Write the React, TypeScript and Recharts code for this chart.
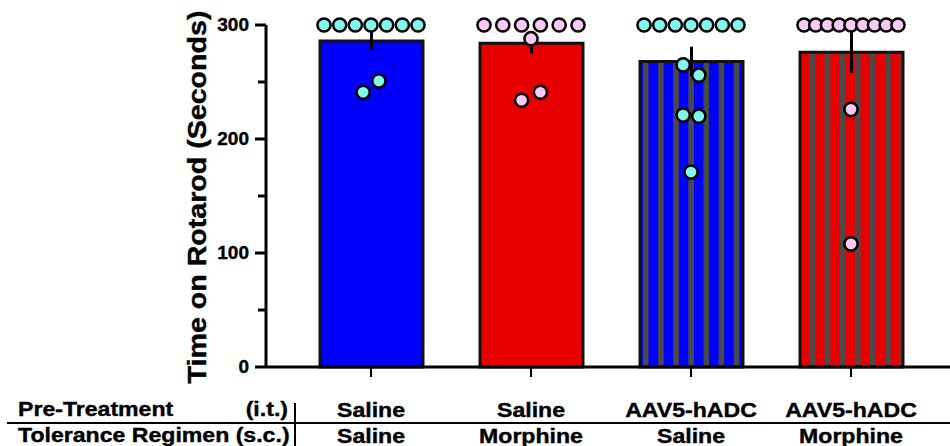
import React from "react";
import { ComposedChart, Bar, Cell, ErrorBar, Scatter, XAxis, YAxis } from "recharts";

// group labels (bottom table)
const preTreatment = ["Saline", "Saline", "AAV5-hADC", "AAV5-hADC"];
const regimen = ["Saline", "Morphine", "Saline", "Morphine"];
const groupIds = ["g0", "g1", "g2", "g3"];

// bar heights + SEM
const meanTime = [286, 284, 268, 276];
const semTime = [8, 9, 13, 18];

// individual animals, in plotting order
const salineSaline = [300, 300, 300, 300, 300, 300, 300, 241, 251];
const salineMorphine = [300, 300, 300, 300, 300, 300, 288, 234, 241];
const aavSaline = [300, 300, 300, 300, 300, 300, 300, 265, 256, 221, 220, 171];
const aavMorphine = [300, 300, 300, 300, 300, 300, 300, 300, 300, 226, 108];
const groupPoints = [salineSaline, salineMorphine, aavSaline, aavMorphine];

const yTicks = [0, 50, 100, 150, 200, 250, 300];

const W = 950;
const H = 446;
const FONT = "'Liberation Sans', Arial, Helvetica, sans-serif";
const BLUE = "#0000ff";
const RED = "#e60000";
const CYAN = "#7ff8ea";
const PINK = "#f9c9f3";
const barFills = [BLUE, RED, "url(#stripeBlue)", "url(#stripeRed)"];
const dotFills = [CYAN, PINK, CYAN, PINK];

const barData = groupIds.map((id, i) => ({ id, mean: meanTime[i], sem: semTime[i] }));

// GraphPad-like scatter: values close together are spread in a row
const ROW_SPAN = 94;
function swarm(values: number[], gi: number) {
  const order = values.map((_, i) => i).sort((a, b) => values[b] - values[a]);
  const clusters: number[][] = [];
  order.forEach((idx) => {
    const last = clusters[clusters.length - 1];
    if (last && Math.abs(values[last[last.length - 1]] - values[idx]) <= 11) last.push(idx);
    else clusters.push([idx]);
  });
  const maxN = Math.max(...clusters.map((c) => c.length));
  const step = maxN > 1 ? ROW_SPAN / (maxN - 1) : 0;
  const out: { x: number; y: number; dx: number; fill: string }[] = [];
  clusters.forEach((c) => {
    const sorted = [...c].sort((a, b) => a - b);
    sorted.forEach((idx, j) => {
      out.push({ x: gi, y: values[idx], dx: (j - (sorted.length - 1) / 2) * step, fill: dotFills[gi] });
    });
  });
  return out;
}
const dotData = groupPoints.flatMap((vals, gi) => swarm(vals, gi));

const Dot = (props: any) => {
  if (props.cx == null || props.cy == null) return null;
  return (
    <circle
      cx={props.cx + props.payload.dx}
      cy={props.cy}
      r={6.6}
      fill={props.payload.fill}
      stroke="#000"
      strokeWidth={2.5}
    />
  );
};

const textStyle = {
  fontFamily: FONT,
  fontWeight: "bold" as const,
  fill: "#000",
  stroke: "#000",
  strokeWidth: 0.4,
};

const YTick = (props: any) => {
  const { x, y, payload } = props;
  const major = payload.value % 100 === 0;
  return (
    <g>
      <line x1={x - (major ? 11 : 8)} x2={x} y1={y} y2={y} stroke="#000" strokeWidth={3} />
      {major && (
        <text x={x - 17} y={y + 6} textAnchor="end" fontSize={19} {...textStyle}>
          {payload.value}
        </text>
      )}
    </g>
  );
};

const XTick = (props: any) => {
  const { x, y, payload } = props;
  const i = groupIds.indexOf(payload.value);
  const txt = (s: string, dy: number) => (
    <text
      transform={`translate(${x},${y + dy}) scale(1.1,1)`}
      textAnchor="middle"
      fontSize={21}
      {...textStyle}
    >
      {s}
    </text>
  );
  return (
    <g>
      <line x1={x} x2={x} y1={y} y2={y + 10} stroke="#000" strokeWidth={2} />
      {txt(preTreatment[i], 50)}
      {txt(regimen[i], 76)}
    </g>
  );
};

const label = (s: string, x: number, y: number, anchor: string) => (
  <text
    transform={`translate(${x},${y}) scale(1.1,1)`}
    textAnchor={anchor}
    fontSize={21}
    {...textStyle}
  >
    {s}
  </text>
);

export default function App() {
  return (
    <div style={{ position: "absolute", left: 0, top: 0, width: W, height: H, background: "#fff" }}>
      <ComposedChart width={W} height={H} data={barData} margin={{ top: 25, right: 0, bottom: 0, left: 0 }}>
        <defs>
          <pattern id="stripeBlue" patternUnits="objectBoundingBox" x={0} y={0} width={0.147} height={1}>
            <rect x={0} y={0} width={30} height={1000} fill={BLUE} />
            <rect x={3} y={0} width={5.5} height={1000} fill="#4a4a4a" />
          </pattern>
          <pattern id="stripeRed" patternUnits="objectBoundingBox" x={0} y={0} width={0.147} height={1}>
            <rect x={0} y={0} width={30} height={1000} fill={RED} />
            <rect x={9.5} y={0} width={5.5} height={1000} fill="#4a4a4a" />
          </pattern>
        </defs>
        <XAxis
          dataKey="id"
          type="category"
          height={79}
          padding={{ left: 25, right: 19 }}
          axisLine={{ stroke: "#000", strokeWidth: 3 }}
          tickLine={false}
          tickSize={0}
          tickMargin={0}
          interval={0}
          tick={<XTick />}
        />
        <XAxis
          xAxisId="n"
          dataKey="x"
          type="number"
          domain={[-0.5, 3.5]}
          padding={{ left: 25, right: 19 }}
          hide
        />
        <YAxis
          type="number"
          domain={[0, 300]}
          ticks={yTicks}
          interval={0}
          width={266}
          axisLine={{ stroke: "#000", strokeWidth: 3 }}
          tickLine={false}
          tickSize={0}
          tickMargin={0}
          tick={<YTick />}
        />
        <Bar dataKey="mean" barSize={103} stroke="#111" strokeWidth={3} isAnimationActive={false}>
          {barData.map((d, i) => (
            <Cell key={d.id} fill={barFills[i]} />
          ))}
          <ErrorBar dataKey="sem" direction="y" width={0} stroke="#000" strokeWidth={3} isAnimationActive={false} />
        </Bar>
        <Scatter xAxisId="n" data={dotData} dataKey="y" shape={<Dot />} isAnimationActive={false} />
      </ComposedChart>
      <svg
        width={W}
        height={H}
        style={{ position: "absolute", left: 0, top: 0, pointerEvents: "none" }}
      >
        <text
          transform="translate(206,197) rotate(-90) scale(1.1,1)"
          textAnchor="middle"
          fontSize={26}
          {...textStyle}
        >
          Time on Rotarod (Seconds)
        </text>
        {label("Pre-Treatment", 18, 416, "start")}
        {label("(i.t.)", 288, 416, "end")}
        {label("Tolerance Regimen (s.c.)", 18, 442, "start")}
        <line x1={7} x2={W} y1={423} y2={423} stroke="#000" strokeWidth={2} />
        <line x1={295} x2={295} y1={403} y2={H} stroke="#000" strokeWidth={2} />
      </svg>
    </div>
  );
}
